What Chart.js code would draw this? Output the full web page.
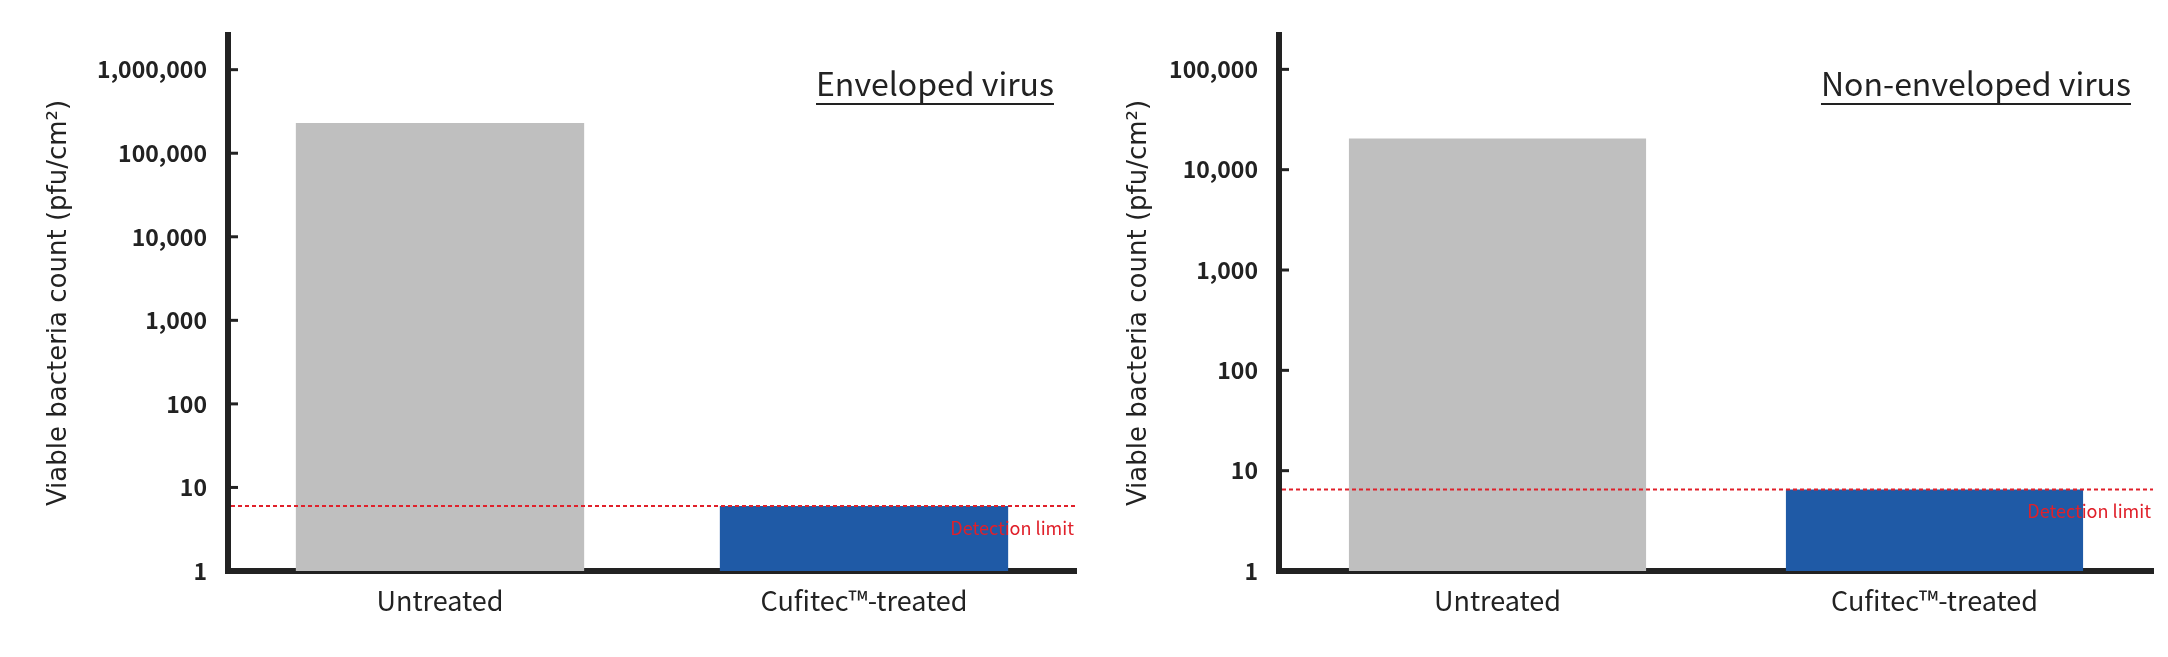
<!DOCTYPE html>
<html><head><meta charset="utf-8">
<script src="https://cdn.jsdelivr.net/npm/chart.js@4.4.1/dist/chart.umd.min.js"></script>
<style>
html,body{margin:0;padding:0;background:#fff;width:2168px;height:657px;overflow:hidden}
.box{position:absolute;top:0;height:657px}
</style></head><body>
<div class="box" style="left:0;width:1090px"><canvas id="c1"></canvas></div>
<div class="box" style="left:1090px;width:1078px"><canvas id="c2"></canvas></div>
<script>
const categories = ["Untreated", "Cufitec\u2122-treated"];
const envelopedValues = [230000, 6];
const nonEnvelopedValues = [20500, 6.5];
const envelopedTicks = [1, 10, 100, 1000, 10000, 100000, 1000000];
const nonEnvelopedTicks = [1, 10, 100, 1000, 10000, 100000];
const envelopedLimit = 6;
const nonEnvelopedLimit = 6.5;
const barColors = ["#bfbfbf", "#1f5aa6"];
const yTitle = "Viable bacteria count (pfu/cm\u00b2)";

function makeChart(id, values, ticks, maxV, limit, title, axisW, padR) {
  const fmt = v => Number(v).toLocaleString('en-US');
  const deco = {
    id: 'deco',
    afterDraw(ch) {
      const c = ch.ctx, y = ch.scales.y;
      c.save();
      c.strokeStyle = '#222'; c.lineWidth = 3;
      ticks.forEach(t => { if (t === 1) return; const py = y.getPixelForValue(t);
        c.beginPath(); c.moveTo(y.right, py); c.lineTo(y.right + 10, py); c.stroke(); });
      const ly = y.getPixelForValue(limit);
      c.strokeStyle = '#e0202a'; c.lineWidth = 2; c.setLineDash([4, 3]);
      c.beginPath(); c.moveTo(y.right + 3, ly); c.lineTo(ch.chartArea.right, ly); c.stroke();
      c.setLineDash([]);
      c.fillStyle = '#e0202a'; c.font = '18px "Noto Sans CJK JP"';
      c.textAlign = 'right'; c.textBaseline = 'middle';
      c.fillText('Detection limit', ch.chartArea.right - 2, ly + 22);
      c.fillStyle = '#222'; c.font = '32px "Noto Sans CJK JP"';
      c.textAlign = 'right'; c.textBaseline = 'alphabetic';
      const tx = ch.chartArea.right - 22, ty = 96;
      c.fillText(title, tx, ty);
      const w = c.measureText(title).width;
      c.lineWidth = 2; c.strokeStyle = '#222';
      c.beginPath(); c.moveTo(tx - w, ty + 8); c.lineTo(tx, ty + 8); c.stroke();
      c.restore();
    }
  };
  return new Chart(document.getElementById(id), {
    type: 'bar',
    data: { labels: categories, datasets: [{ data: values, backgroundColor: barColors,
      barPercentage: 0.68, categoryPercentage: 1 }] },
    options: {
      responsive: true, maintainAspectRatio: false, animation: false,
      layout: { padding: { top: 35, right: padR, left: 0, bottom: 0 } },
      plugins: { legend: { display: false }, tooltip: { enabled: false } },
      scales: {
        x: { grid: { display: false, drawTicks: false },
          border: { color: '#222', width: 6 },
          ticks: { color: '#222', font: { size: 27, family: '"Noto Sans CJK JP"' }, padding: 14 },
          afterFit(s) { s.height = 86; } },
        y: { type: 'logarithmic', min: 1, max: maxV,
          grid: { display: false, drawTicks: false },
          border: { color: '#222', width: 6 },
          afterBuildTicks(s) { s.ticks = ticks.map(v => ({ value: v })); },
          ticks: { color: '#222', padding: 21, autoSkip: false,
            font: { size: 23, family: '"Noto Sans CJK JP"', weight: 'bold' },
            callback: v => fmt(v) },
          title: { display: true, text: yTitle, color: '#222',
            font: { size: 26, family: '"DejaVu Sans"' }, padding: { top: axisW.tp, bottom: 0 } },
          afterFit(s) { s.width = axisW.w; } }
      }
    },
    plugins: [deco]
  });
}
makeChart('c1', envelopedValues, envelopedTicks, 2600000, envelopedLimit, 'Enveloped virus', { w: 228, tp: 44 }, 14);
makeChart('c2', nonEnvelopedValues, nonEnvelopedTicks, 220000, nonEnvelopedLimit, 'Non-enveloped virus', { w: 189, tp: 34 }, 15);
</script></body></html>
